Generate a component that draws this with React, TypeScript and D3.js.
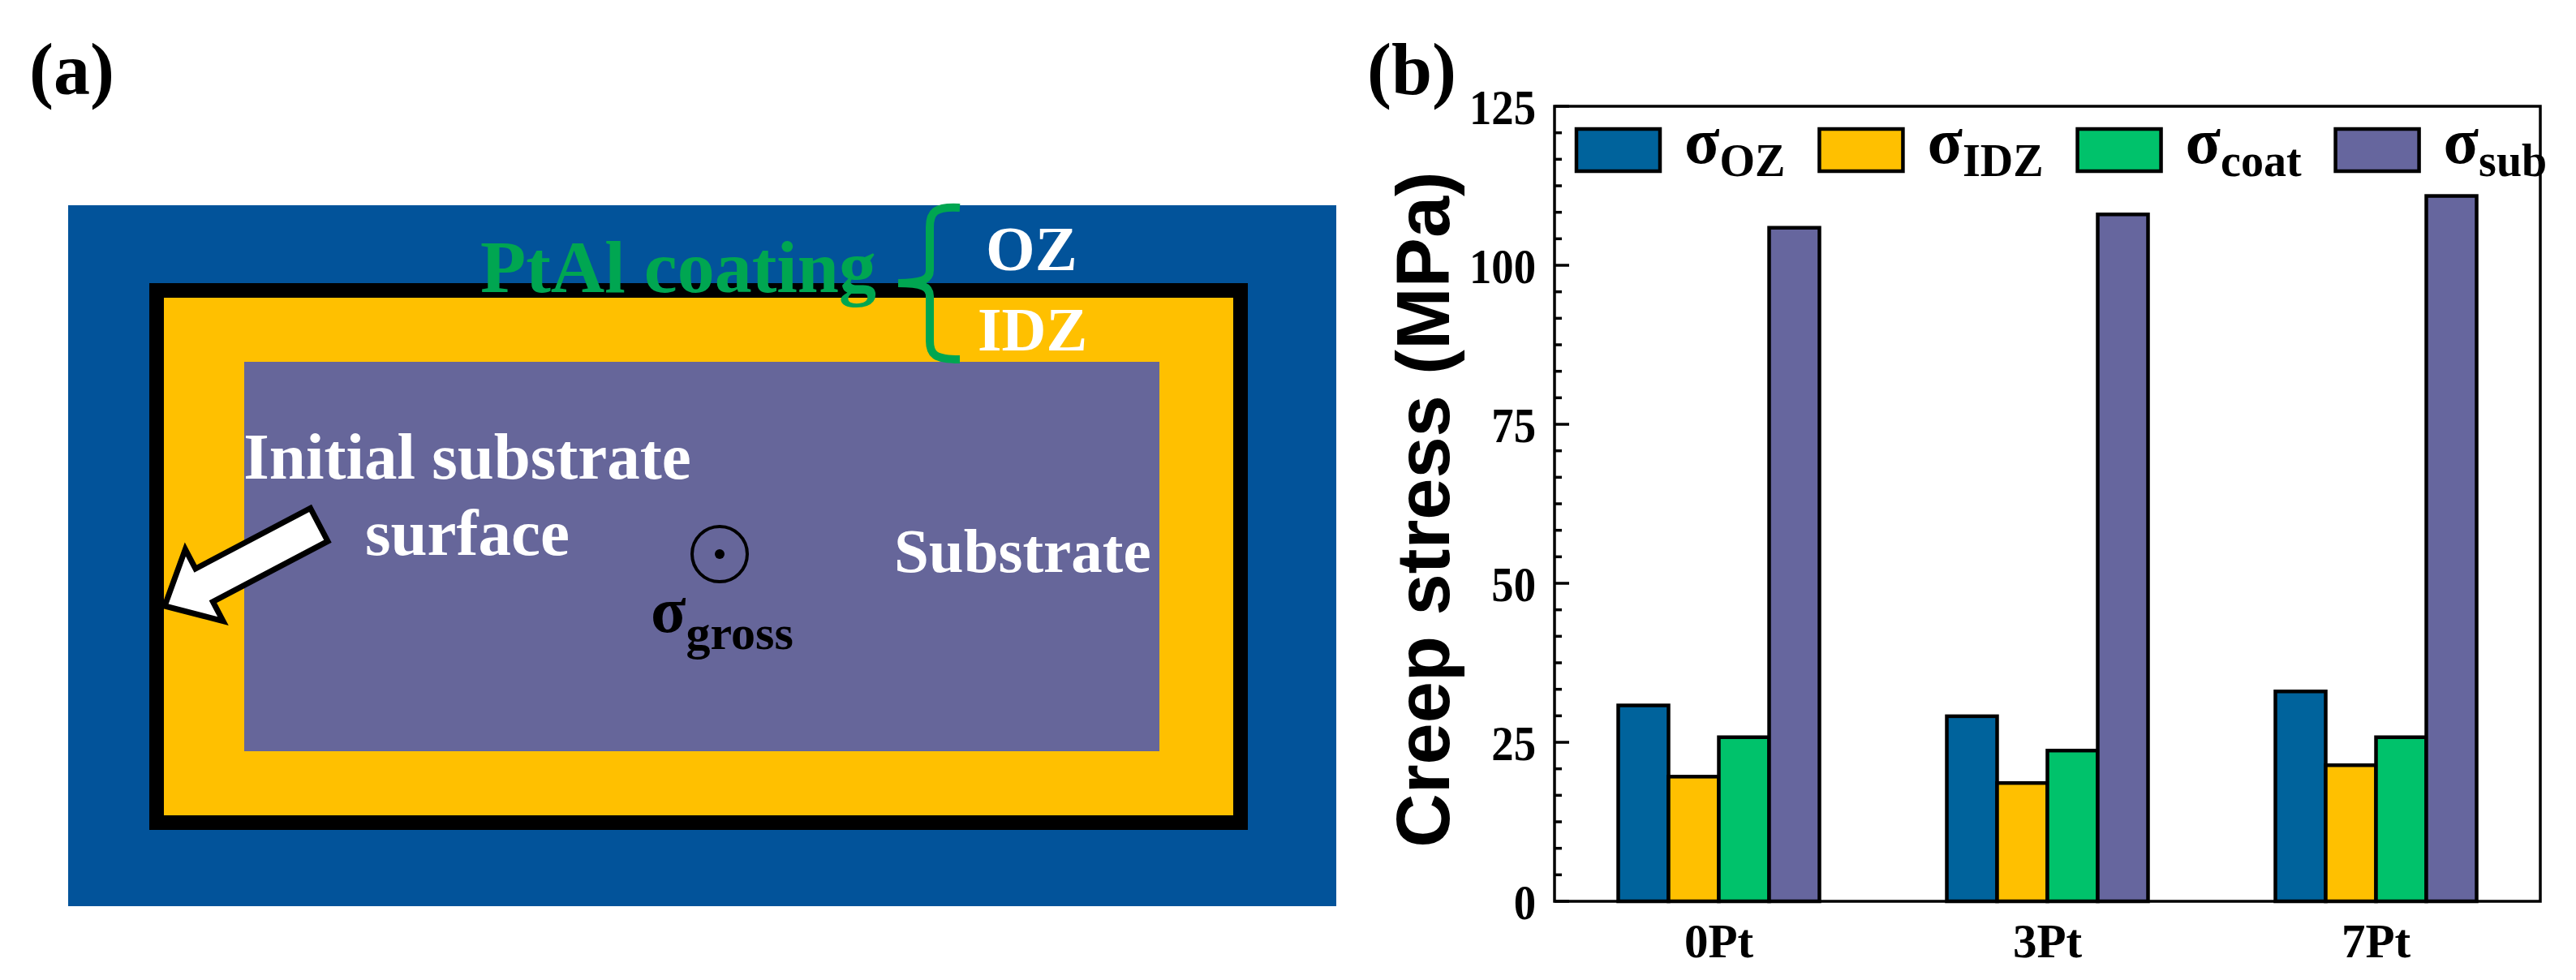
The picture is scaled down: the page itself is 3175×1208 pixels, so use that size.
import React, { useEffect, useRef } from "react";
import * as d3 from "d3";

// ---------- DATA ----------
const categories = ["0Pt", "3Pt", "7Pt"];
const seriesSubscripts = ["OZ", "IDZ", "coat", "sub"];
const valuesOZ = [30.8, 29.1, 33.0];
const valuesIDZ = [19.6, 18.6, 21.4];
const valuesCoat = [25.8, 23.7, 25.8];
const valuesSub = [105.9, 108.0, 110.9];
const seriesColors = ["#00639C", "#FFC000", "#00C26B", "#66669E"];
const yTicks = [0, 25, 50, 75, 100, 125];
const yDomain = [0, 125];
const minorPerMajor = 5;
const yLabel = "Creep stress (MPa)";

// panel (a) texts
const coatingLabel = "PtAl coating";
const ozLabel = "OZ";
const idzLabel = "IDZ";
const initialLabel1 = "Initial substrate";
const initialLabel2 = "surface";
const substrateLabel = "Substrate";
const grossSub = "gross";

const SERIF = "'Liberation Serif', 'Times New Roman', serif";
const SANS = "'Liberation Sans', Arial, sans-serif";

const W = 3175;
const H = 1208;

// panel (b) layout
const FL = 1916, FR = 3131, FT = 131, FB = 1111;

function Chart() {
  const gRef = useRef<SVGGElement | null>(null);

  useEffect(() => {
    const g = d3.select(gRef.current);
    g.selectAll("*").remove();

    const seriesValues = [valuesOZ, valuesIDZ, valuesCoat, valuesSub];

    const x = d3.scalePoint<string>().domain(categories).range([FL, FR]).padding(0.5);
    const groupWidth = 248;
    const inner = d3
      .scaleBand<number>()
      .domain(d3.range(seriesValues.length))
      .range([-groupWidth / 2, groupWidth / 2])
      .padding(0);
    const y = d3.scaleLinear().domain(yDomain).range([FB, FT]);

    // bars
    seriesValues.forEach((vals, si) => {
      g.append("g")
        .selectAll("rect")
        .data(vals)
        .join("rect")
        .attr("x", (_d, i) => (x(categories[i]) as number) + (inner(si) as number))
        .attr("y", (d) => y(d))
        .attr("width", inner.bandwidth())
        .attr("height", (d) => y(0) - y(d))
        .attr("fill", seriesColors[si])
        .attr("stroke", "#000")
        .attr("stroke-width", 4.5);
    });

    // minor ticks
    const step = (yTicks[1] - yTicks[0]) / (minorPerMajor + 1);
    const minors: number[] = [];
    for (let k = 0; k < yTicks.length - 1; k++) {
      for (let m = 1; m <= minorPerMajor; m++) minors.push(yTicks[k] + m * step);
    }
    g.append("g")
      .selectAll("line")
      .data(minors)
      .join("line")
      .attr("x1", FL)
      .attr("x2", FL + 9)
      .attr("y1", (d) => y(d))
      .attr("y2", (d) => y(d))
      .attr("stroke", "#000")
      .attr("stroke-width", 3.5);

    g.append("g")
      .selectAll("line")
      .data(yTicks)
      .join("line")
      .attr("x1", FL)
      .attr("x2", FL + 18)
      .attr("y1", (d) => y(d))
      .attr("y2", (d) => y(d))
      .attr("stroke", "#000")
      .attr("stroke-width", 3.5);

    g.append("g")
      .selectAll("text")
      .data(yTicks)
      .join("text")
      .attr("transform", (d) => `translate(${FL - 23}, ${y(d)}) scale(0.96, 1.08)`)
      .attr("dy", "0.35em")
      .attr("text-anchor", "end")
      .attr("font-family", SERIF)
      .attr("font-weight", "bold")
      .attr("font-size", 57)
      .text((d) => String(d));

    // category labels
    g.append("g")
      .selectAll("text")
      .data(categories)
      .join("text")
      .attr("x", (d) => x(d) as number)
      .attr("y", 1180)
      .attr("text-anchor", "middle")
      .attr("font-family", SERIF)
      .attr("font-weight", "bold")
      .attr("font-size", 59)
      .text((d) => d);

    // frame
    g.append("rect")
      .attr("x", FL)
      .attr("y", FT)
      .attr("width", FR - FL)
      .attr("height", FB - FT)
      .attr("fill", "none")
      .attr("stroke", "#000")
      .attr("stroke-width", 3.5);

    // y label
    g.append("text")
      .attr("transform", `translate(1786, ${(FT + FB) / 2 + 7}) rotate(-90)`)
      .attr("text-anchor", "middle")
      .attr("font-family", SANS)
      .attr("font-weight", "bold")
      .attr("font-size", 92)
      .text(yLabel);

    // legend
    let lx = 1943;
    const boxW = 103, boxH = 52, boxY = 159;
    seriesSubscripts.forEach((sub, si) => {
      g.append("rect")
        .attr("x", lx)
        .attr("y", boxY)
        .attr("width", boxW)
        .attr("height", boxH)
        .attr("fill", seriesColors[si])
        .attr("stroke", "#000")
        .attr("stroke-width", 4.5);
      const t = g
        .append("text")
        .attr("x", lx + boxW + 30)
        .attr("y", 201)
        .attr("font-family", SERIF)
        .attr("font-weight", "bold");
      t.append("tspan").attr("font-size", 80).text("σ");
      t.append("tspan").attr("font-size", 56).attr("dy", 16).text(sub);
      const tw = (t.node() as SVGTextElement).getComputedTextLength();
      lx = lx + boxW + 30 + tw + 42;
    });
  }, []);

  return <g ref={gRef} />;
}

function PanelA() {
  // arrow geometry
  const tip = [203, 747];
  const u = [-0.885, 0.466];
  const n = [0.466, 0.885];
  const headLen = 55, headHalf = 50, shaftHalf = 23, totalLen = 215;
  const B = [tip[0] - u[0] * headLen, tip[1] - u[1] * headLen];
  const C = [tip[0] - u[0] * totalLen, tip[1] - u[1] * totalLen];
  const pts = [
    tip,
    [B[0] - n[0] * headHalf, B[1] - n[1] * headHalf],
    [B[0] - n[0] * shaftHalf, B[1] - n[1] * shaftHalf],
    [C[0] - n[0] * shaftHalf, C[1] - n[1] * shaftHalf],
    [C[0] + n[0] * shaftHalf, C[1] + n[1] * shaftHalf],
    [B[0] + n[0] * shaftHalf, B[1] + n[1] * shaftHalf],
    [B[0] + n[0] * headHalf, B[1] + n[1] * headHalf],
  ];
  const arrowPath = d3.line()(pts as [number, number][]) + "Z";

  return (
    <g>
      <rect x={84} y={253} width={1563} height={864} fill="#02539A" />
      <rect x={193} y={358} width={1336} height={656} fill="#FFC000" stroke="#000" strokeWidth={18} />
      <rect x={301} y={446} width={1128} height={480} fill="#66669A" />

      <text x={592} y={360} fontFamily={SERIF} fontWeight="bold" fontSize={92} fill="#00A651">
        {coatingLabel}
      </text>
      <path
        d="M1183,256 C1152,254 1146,262 1146,280 L1146,333 C1146,345 1136,349 1107,349 C1136,349 1146,353 1146,365 L1146,420 C1146,437 1152,443 1183,443"
        fill="none"
        stroke="#00A651"
        strokeWidth={10}
      />
      <text x={1215} y={333} fontFamily={SERIF} fontWeight="bold" fontSize={78} fill="#fff">
        {ozLabel}
      </text>
      <text x={1205} y={432} fontFamily={SERIF} fontWeight="bold" fontSize={76} fill="#fff">
        {idzLabel}
      </text>

      <text x={576} y={590} textAnchor="middle" fontFamily={SERIF} fontWeight="bold" fontSize={81} fill="#fff">
        {initialLabel1}
      </text>
      <text x={576} y={684} textAnchor="middle" fontFamily={SERIF} fontWeight="bold" fontSize={81} fill="#fff">
        {initialLabel2}
      </text>
      <text x={1102} y={705} fontFamily={SERIF} fontWeight="bold" fontSize={77} fill="#fff">
        {substrateLabel}
      </text>

      <path d={arrowPath} fill="#fff" stroke="#000" strokeWidth={7} strokeLinejoin="miter" />

      <circle cx={887} cy={683} r={34} fill="none" stroke="#000" strokeWidth={4} />
      <circle cx={887} cy={683} r={6} fill="#000" />
      <text x={802} y={779} fontFamily={SERIF} fontWeight="bold" fill="#000">
        <tspan fontSize={80}>σ</tspan>
        <tspan fontSize={60} dy={21}>{grossSub}</tspan>
      </text>
    </g>
  );
}

export default function App() {
  return (
    <svg
      width={W}
      height={H}
      viewBox={`0 0 ${W} ${H}`}
      style={{ position: "absolute", left: 0, top: 0, display: "block", background: "#fff" }}
    >
      <rect x={0} y={0} width={W} height={H} fill="#fff" />
      <text x={36} y={116} fontFamily={SERIF} fontWeight="bold" fontSize={90}>
        (a)
      </text>
      <text x={1685} y={116} fontFamily={SERIF} fontWeight="bold" fontSize={90}>
        (b)
      </text>
      <PanelA />
      <Chart />
    </svg>
  );
}
